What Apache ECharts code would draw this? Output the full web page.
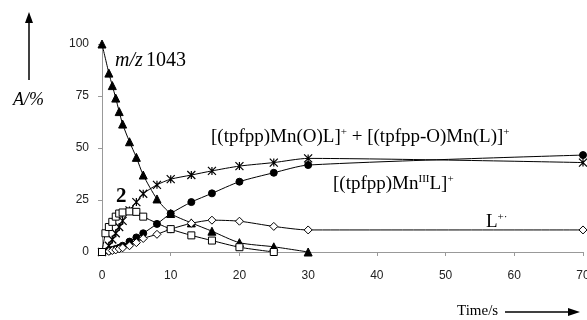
<!DOCTYPE html>
<html><head><meta charset="utf-8">
<script src="https://cdn.jsdelivr.net/npm/echarts@6/dist/echarts.min.js"></script>
<style>html,body{margin:0;padding:0;background:#fff}#c{width:587px;height:320px}</style>
</head><body><div id="c"></div>
<script>
var time      = [0, 0.5, 1, 1.5, 2, 2.5, 3, 4, 5, 6, 8, 10, 13, 16, 20, 25, 30, 70];
var mz1043    = [100, null, 86, 80, 74, 67.5, 61.5, 53, 45.5, 37, 25.5, 18.5, 14, 10, 4.5, 2.5, 0, null];
var cpd2      = [0, 9, 12, 14.5, 17, 18.5, 19, 19.5, 19.3, 17, null, 11, 8, 5.5, 2.3, 0, null, null];
var oxo       = [0, null, 3, 6, 9, 12, 15, 20, 24, 28, 32.3, 35, 37, 39, 41.3, 43, 45, 43];
var mn3       = [0, null, 0.5, 1, 1.5, 2, 3, 5, 7, 9, 13.5, 18.5, 24, 28.2, 33.8, 38.1, 41.8, 46.6];
var ligand    = [0, null, 0.3, 0.7, 1, 1.5, 2, 3, 4.5, 6.5, 8.5, 11, 13.8, 15.3, 14.8, 12.3, 10.6, 10.6];
var xTicks    = [0, 10, 20, 30, 40, 50, 60, 70];
var yTicks    = [0, 25, 50, 75, 100];

function pairs(v){ var o=[]; for (var i=0;i<time.length;i++){ if (v[i]!==null) o.push([time[i], v[i]]); } return o; }

var starPath = 'path://M0,0L10,10M10,0L0,10M5,0L5,10';
var diamondPath = 'path://M5,0L10,5L5,10L0,5Z';

function ser(name, data, symbol, size, fill, extra){
  var s = {
    name: name, type: 'line', data: pairs(data), smooth: 0.25,
    symbol: symbol, symbolSize: size, showSymbol: true,
    lineStyle: {color: '#000', width: 1},
    itemStyle: {color: fill, borderColor: '#000', borderWidth: 1},
    z: 3
  };
  if (extra) for (var k in extra) s[k] = extra[k];
  return s;
}

var chart = echarts.init(document.getElementById('c'), null, {renderer: 'canvas'});
var serif = '"Liberation Serif","Times New Roman",serif';
var sup = {font: '11px ' + serif, fill: '#000', verticalAlign: 'top', padding: [0,0,9,0]};
chart.setOption({
  animation: false,
  grid: {left: 102, right: 4, top: 44, bottom: 68, containLabel: false, outerBoundsMode: 'none'},
  xAxis: {
    type: 'value', min: xTicks[0], max: xTicks[xTicks.length-1], interval: 10,
    axisLine: {lineStyle: {color: '#999', width: 1}},
    axisTick: {show: true, length: 4, lineStyle: {color: '#999'}},
    axisLabel: {color: '#222', fontSize: 12, fontFamily: 'Liberation Sans, Arial', margin: 18, hideOverlap: false},
    splitLine: {show: false}
  },
  yAxis: {
    type: 'value', min: yTicks[0], max: yTicks[yTicks.length-1], interval: 25,
    axisLine: {show: true, lineStyle: {color: '#999', width: 1}},
    axisTick: {show: true, length: 4, lineStyle: {color: '#999'}},
    axisLabel: {color: '#222', fontSize: 12, fontFamily: 'Liberation Sans, Arial', margin: 13},
    splitLine: {show: false}
  },
  series: [
    ser('m/z 1043', mz1043, 'triangle', 8, '#000'),
    ser('2', cpd2, 'rect', 7, '#fff', {z: 4}),
    ser('oxo', oxo, starPath, 8, 'none', {itemStyle: {color: 'none', borderColor: '#000', borderWidth: 1.2}}),
    ser('MnIII', mn3, 'circle', 7, '#000'),
    ser('L', ligand, diamondPath, 8, '#fff')
  ],
  graphic: [
    {type: 'line', shape: {x1: 29, y1: 80, x2: 29, y2: 22}, style: {stroke: '#000', lineWidth: 1.5}},
    {type: 'polygon', shape: {points: [[25, 23], [33, 23], [29, 12]]}, style: {fill: '#000'}},
    {type: 'text', left: 13, top: 91, style: {text: 'A/%', font: 'italic 18px ' + serif, fill: '#000'}},
    {type: 'text', left: 457, top: 304, style: {text: 'Time/s', font: '15px ' + serif, fill: '#000'}},
    {type: 'line', shape: {x1: 505, y1: 312, x2: 570, y2: 312}, style: {stroke: '#000', lineWidth: 1.5}},
    {type: 'polygon', shape: {points: [[568, 308], [568, 316], [580, 312]]}, style: {fill: '#000'}},
    {type: 'text', left: 115, top: 51, style: {
      text: '{i|m/z} {n|1043}',
      rich: {i: {font: 'italic 20px ' + serif, fill: '#000'}, n: {font: '20px ' + serif, fill: '#000'}}
    }},
    {type: 'text', left: 116, top: 186, style: {text: '2', font: 'bold 21px ' + serif, fill: '#000'}},
    {type: 'text', left: 211, top: 127, style: {
      text: '{n|[(tpfpp)Mn(O)L]}{s|+}{n| + [(tpfpp-O)Mn(L)]}{s|+}',
      rich: {n: {font: '19px ' + serif, fill: '#000'}, s: sup}
    }},
    {type: 'text', left: 333, top: 174, style: {
      text: '{n|[(tpfpp)Mn}{s|III}{n|L]}{s|+}',
      rich: {n: {font: '19px ' + serif, fill: '#000'}, s: sup}
    }},
    {type: 'text', left: 486, top: 212, style: {
      text: '{n|L}{s|+·}',
      rich: {n: {font: '19px ' + serif, fill: '#000'}, s: sup}
    }}
  ]
});
</script></body></html>
